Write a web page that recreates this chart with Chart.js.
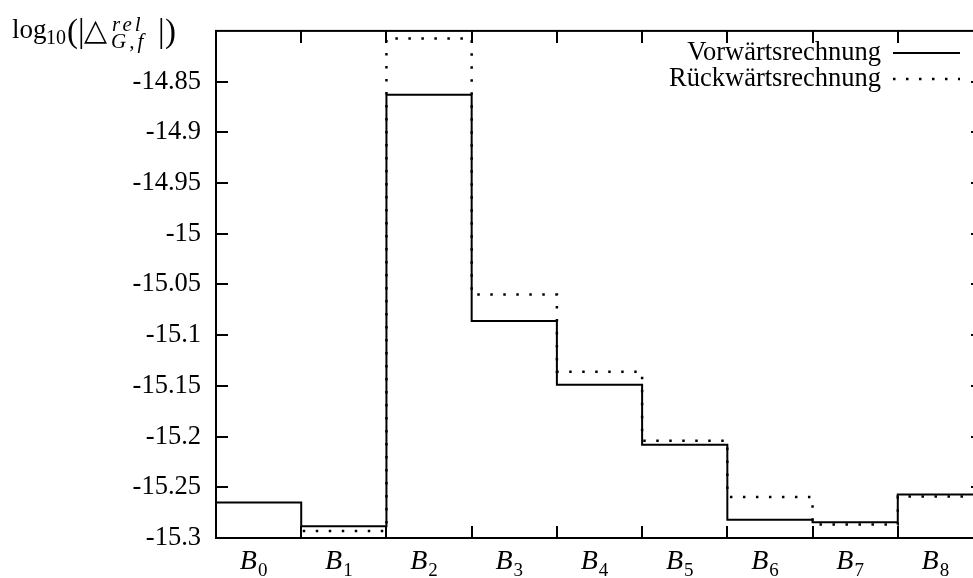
<!DOCTYPE html>
<html><head><meta charset="utf-8">
<script src="https://cdn.jsdelivr.net/npm/chart.js@4/dist/chart.umd.min.js"></script>
<style>
html,body{margin:0;padding:0;overflow:hidden;background:#fff;width:973px;height:578px}
#wrap{position:relative;width:1000px;height:578px}
</style></head><body><div id="wrap"><canvas id="c" width="1000" height="578"></canvas></div>
<script>
const categories = ['0','1','2','3','4','5','6','7','8'];
const categoryPrefix = 'B';
const forwardValues  = [-15.265, -15.2885, -14.863, -15.086, -15.149, -15.208, -15.282, -15.2845, -15.257];
const backwardValues = [-15.31, -15.293, -14.8075, -15.060, -15.136, -15.204, -15.2595, -15.2866, -15.259];
const seriesLabels = ['Vorwärtsrechnung', 'Rückwärtsrechnung'];
const yTickValues = [-15.3, -15.25, -15.2, -15.15, -15.1, -15.05, -15, -14.95, -14.9, -14.85];
const yTickLabels = ['-15.3', '-15.25', '-15.2', '-15.15', '-15.1', '-15.05', '-15', '-14.95', '-14.9', '-14.85'];
const yMin = -15.3, yMax = -14.8;

const FONT = '"Liberation Serif", "DejaVu Serif", serif';

function stepPoints(vals) {
  const pts = vals.map((v, i) => ({ x: i - 0.5, y: v }));
  pts.push({ x: vals.length - 0.5, y: vals[vals.length - 1] });
  return pts;
}

const decorPlugin = {
  id: 'decor',
  afterDraw(chart) {
    const ctx = chart.ctx;
    const a = chart.chartArea;
    const xs = chart.scales.x, ys = chart.scales.y;
    ctx.save();
    ctx.strokeStyle = '#000';
    ctx.fillStyle = '#000';
    ctx.lineWidth = 2;
    ctx.setLineDash([]);
    // box
    ctx.strokeRect(a.left, a.top, a.right - a.left, a.bottom - a.top);
    // y ticks (inward, mirrored)
    const tl = 12;
    ctx.beginPath();
    yTickValues.forEach(v => {
      const py = Math.round(ys.getPixelForValue(v));
      ctx.moveTo(a.left, py); ctx.lineTo(a.left + tl, py);
      ctx.moveTo(a.right, py); ctx.lineTo(a.right - tl, py);
    });
    // x ticks at bin boundaries
    for (let i = 0; i < categories.length - 1; i++) {
      const px = Math.round(xs.getPixelForValue(i + 0.5));
      ctx.moveTo(px, a.bottom); ctx.lineTo(px, a.bottom - tl);
      ctx.moveTo(px, a.top); ctx.lineTo(px, a.top + tl);
    }
    ctx.stroke();

    // x labels B_i
    ctx.textBaseline = 'alphabetic';
    ctx.textAlign = 'left';
    categories.forEach((c, i) => {
      ctx.font = 'italic 28px ' + FONT;
      const wB = ctx.measureText(categoryPrefix).width;
      ctx.font = '19px ' + FONT;
      const wS = ctx.measureText(c).width;
      const cx = xs.getPixelForValue(i) - 5;
      const x0 = cx - (wB + 1 + wS) / 2;
      ctx.font = 'italic 28px ' + FONT;
      ctx.fillText(categoryPrefix, x0, 569);
      ctx.font = '19px ' + FONT;
      ctx.fillText(c, x0 + wB + 1, 576);
    });

    // legend
    ctx.font = '26.5px ' + FONT;
    ctx.textAlign = 'right';
    const rows = [{ y: 60, ly: 53 }, { y: 86, ly: 79 }];
    chart.data.datasets.forEach((ds, i) => {
      ctx.fillText(ds.label, 881, rows[i].y);
      ctx.lineWidth = ds.borderWidth;
      ctx.setLineDash(ds.borderDash || []);
      ctx.beginPath();
      ctx.moveTo(893, rows[i].ly); ctx.lineTo(960, rows[i].ly);
      ctx.stroke();
    });
    ctx.setLineDash([]);

    // y-axis title: log10(|△^{rel}_{G,f}|)
    ctx.textAlign = 'left';
    ctx.font = '27px ' + FONT;
    ctx.fillText('log', 12, 38);
    ctx.font = '20px ' + FONT;
    ctx.fillText('10', 46, 44);
    ctx.font = '33px ' + FONT;
    ctx.fillText('(', 67, 42);
    ctx.fillText('|', 78, 42);
    ctx.font = '30px "DejaVu Sans", sans-serif';
    ctx.fillText('△', 84, 40);
    ctx.font = 'italic 21px ' + FONT;
    ctx.letterSpacing = '3px';
    ctx.fillText('rel', 112, 31);
    ctx.fillText('G,f', 111, 48);
    ctx.letterSpacing = '0px';
    ctx.font = '33px ' + FONT;
    ctx.fillText('|', 158, 42);
    ctx.fillText(')', 165, 42);
    ctx.restore();
  }
};

new Chart(document.getElementById('c'), {
  type: 'line',
  data: {
    datasets: [
      { label: seriesLabels[0], data: stepPoints(forwardValues), stepped: 'before',
        borderColor: '#000', borderWidth: 2, pointRadius: 0, fill: false },
      { label: seriesLabels[1], data: stepPoints(backwardValues), stepped: 'before',
        borderColor: '#000', borderWidth: 2.5, borderDash: [2.5, 10.5], pointRadius: 0, fill: false }
    ]
  },
  options: {
    responsive: false,
    animation: false,
    devicePixelRatio: 1,
    layout: { padding: { top: 28, bottom: 40, right: 17, left: 0 } },
    plugins: { legend: { display: false }, tooltip: { enabled: false } },
    scales: {
      x: { type: 'linear', display: false, min: -0.5, max: categories.length - 0.5 },
      y: {
        type: 'linear', min: yMin, max: yMax,
        afterFit(s) { s.width = 216; },
        afterBuildTicks(s) { s.ticks = yTickValues.map(v => ({ value: v })); },
        grid: { display: false, drawTicks: false },
        border: { display: false },
        ticks: {
          padding: 15, color: '#000',
          font: { family: FONT, size: 26.5 },
          callback: (v, i) => yTickLabels[i]
        }
      }
    }
  },
  plugins: [decorPlugin]
});
</script></body></html>
